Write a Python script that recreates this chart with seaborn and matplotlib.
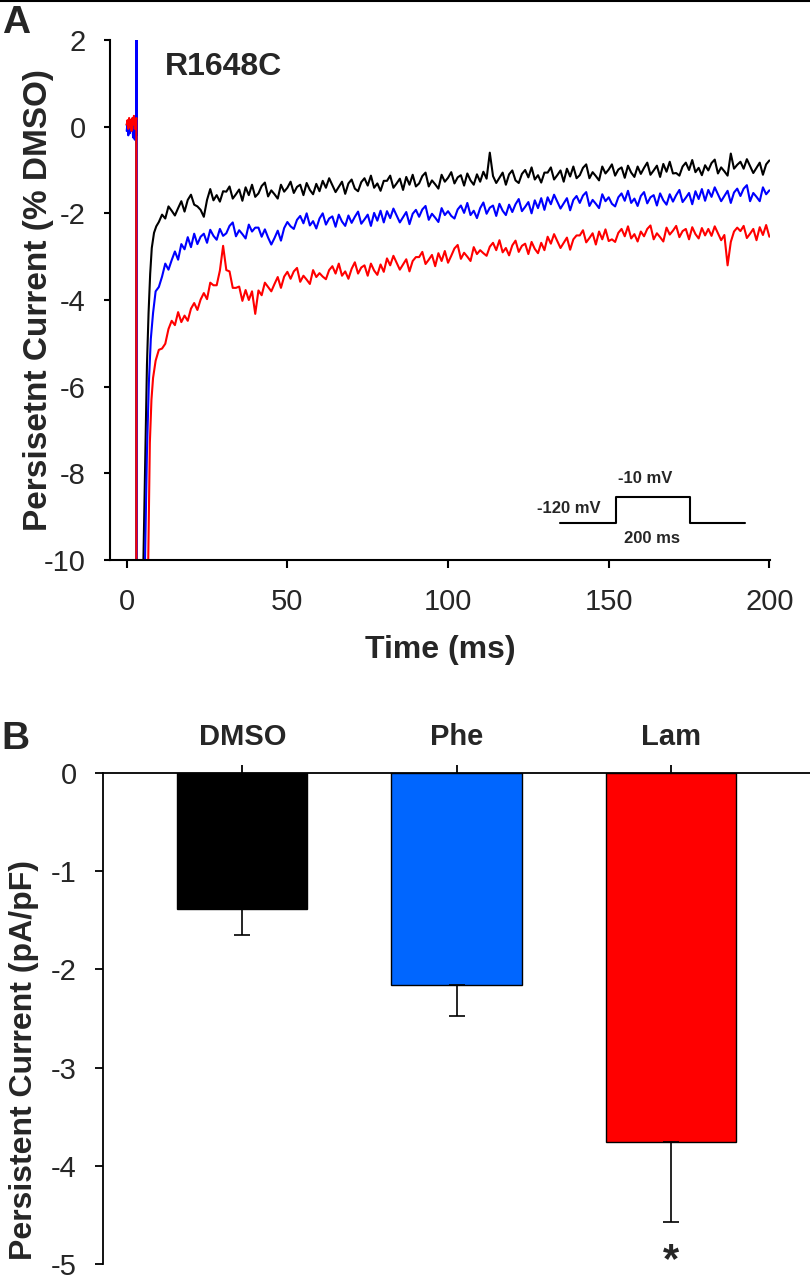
import matplotlib
matplotlib.use("Agg")
import matplotlib.pyplot as plt
from matplotlib.lines import Line2D
import seaborn as sns

# ---- panel A: persistent current traces (R1648C), % of DMSO ----
t_pre = [0, 0.25, 0.5, 0.75, 1.0, 1.25, 1.5, 1.75, 2.0, 2.25, 2.5, 2.75, 3.0]
t_slow = list(range(11, 201))

black_t_fast = t_pre + [3.1, 4.6, 5.2, 5.8, 6.3, 6.8, 7.3, 7.8, 8.5, 9.2, 10.0]
black_i_fast = [0.05, -0.05, 0.1, 0.0, 0.12, -0.08, 0.05, 0.1, -0.05, 0.08, 0.0, 0.1, 0.02,
                -60, -40, -10, -7.5, -5.5, -4.3, -3.4, -2.8, -2.45, -2.3, -2.2]
black_i_slow = [
    -2.03, -2.12, -1.84, -1.94, -2.05, -1.88, -1.72, -1.96, -1.69, -1.57,
    -1.80, -1.84, -1.92, -2.08, -1.69, -1.44, -1.70, -1.58, -1.73, -1.49,
    -1.50, -1.38, -1.66, -1.56, -1.45, -1.71, -1.40, -1.58, -1.34, -1.62,
    -1.54, -1.37, -1.29, -1.61, -1.47, -1.56, -1.66, -1.34, -1.50, -1.41,
    -1.27, -1.53, -1.39, -1.34, -1.58, -1.30, -1.46, -1.56, -1.32, -1.49,
    -1.25, -1.41, -1.19, -1.35, -1.51, -1.39, -1.27, -1.55, -1.31, -1.22,
    -1.43, -1.49, -1.28, -1.19, -1.36, -1.13, -1.41, -1.31, -1.48, -1.25,
    -1.25, -1.13, -1.41, -1.31, -1.20, -1.46, -1.16, -1.34, -1.11, -1.38,
    -1.31, -1.14, -1.06, -1.38, -1.24, -1.33, -1.43, -1.11, -1.27, -1.18,
    -1.05, -1.31, -1.17, -1.12, -1.36, -1.08, -1.24, -1.34, -1.10, -1.27,
    -1.04, -1.20, -0.60, -1.14, -1.30, -1.18, -1.06, -1.34, -1.10, -1.01,
    -1.24, -1.30, -1.09, -1.00, -1.17, -0.94, -1.22, -1.12, -1.29, -1.06,
    -1.06, -0.94, -1.22, -1.12, -1.01, -1.27, -0.97, -1.15, -0.92, -1.19,
    -1.12, -0.95, -0.87, -1.19, -1.05, -1.14, -1.24, -0.92, -1.08, -0.99,
    -0.87, -1.13, -0.99, -0.94, -1.18, -0.90, -1.06, -1.16, -0.92, -1.09,
    -0.95, -0.83, -1.11, -1.01, -0.90, -1.16, -0.86, -1.04, -0.81, -1.08,
    -1.07, -1.13, -0.92, -0.83, -1.00, -0.77, -1.05, -0.95, -1.12, -0.89,
    -1.01, -0.84, -0.76, -1.08, -0.94, -1.03, -1.13, -0.62, -0.97, -0.88,
    -0.81, -0.97, -0.75, -0.91, -1.07, -0.95, -0.83, -1.11, -0.87, -0.78,
]

blue_t_fast = t_pre + [3.1, 3.15, 5.0, 5.7, 6.3, 6.9, 7.5, 8.2, 9.0, 10.0]
blue_i_fast = [-0.1, 0.1, -0.2, 0.05, -0.15, 0.1, -0.05, 0.0, -0.25, 0.1, -0.3, 0.05, -0.2,
               40, -60, -40, -10, -7.5, -5.9, -4.9, -4.3, -3.8, -3.7]
blue_i_slow = [
    -3.46, -3.16, -3.30, -3.08, -2.88, -3.07, -2.71, -2.83, -2.55, -2.78,
    -2.47, -2.71, -2.54, -2.47, -2.68, -2.38, -2.52, -2.61, -2.36, -2.52,
    -2.46, -2.29, -2.21, -2.53, -2.39, -2.48, -2.58, -2.26, -2.42, -2.33,
    -2.33, -2.54, -2.37, -2.56, -2.72, -2.57, -2.40, -2.63, -2.34, -2.20,
    -2.30, -2.36, -2.15, -2.06, -2.23, -2.00, -2.28, -2.18, -2.35, -2.12,
    -2.00, -2.26, -2.12, -2.07, -2.31, -2.03, -2.19, -2.29, -2.05, -2.22,
    -2.08, -1.96, -2.24, -2.14, -2.03, -2.29, -1.99, -2.17, -1.94, -2.21,
    -1.95, -2.11, -1.89, -2.05, -2.21, -2.09, -1.97, -2.25, -2.01, -1.92,
    -2.08, -1.91, -1.83, -2.15, -2.01, -2.10, -2.20, -1.88, -2.04, -1.95,
    -2.06, -2.12, -1.91, -1.82, -1.99, -1.76, -2.04, -1.94, -2.11, -1.88,
    -1.75, -2.01, -1.87, -1.82, -2.06, -1.78, -1.94, -2.04, -1.80, -1.97,
    -1.79, -1.67, -1.95, -1.85, -1.74, -2.00, -1.70, -1.88, -1.65, -1.92,
    -1.63, -1.79, -1.57, -1.73, -1.89, -1.77, -1.65, -1.93, -1.69, -1.60,
    -1.76, -1.59, -1.51, -1.83, -1.69, -1.78, -1.88, -1.56, -1.72, -1.63,
    -1.78, -1.84, -1.63, -1.54, -1.71, -1.48, -1.76, -1.66, -1.83, -1.60,
    -1.51, -1.77, -1.63, -1.58, -1.82, -1.54, -1.70, -1.80, -1.56, -1.73,
    -1.58, -1.46, -1.74, -1.64, -1.53, -1.79, -1.49, -1.67, -1.44, -1.71,
    -1.46, -1.62, -1.40, -1.56, -1.72, -1.60, -1.48, -1.76, -1.52, -1.43,
    -1.60, -1.43, -1.35, -1.72, -1.53, -1.62, -1.72, -1.40, -1.56, -1.47,
]

red_t_fast = t_pre + [3.1, 6.0, 6.7, 7.2, 7.7, 8.2, 9.0, 10.0]
red_i_fast = [0.05, 0.15, -0.05, 0.2, 0.0, 0.15, -0.1, 0.2, 0.05, 0.25, -0.05, 0.1, 0.2,
              -60, -40, -10, -7.3, -6.3, -5.8, -5.4, -5.15]
red_i_slow = [
    -5.12, -5.01, -4.67, -4.48, -4.58, -4.28, -4.51, -4.36, -4.48, -4.20,
    -4.07, -4.23, -3.99, -3.84, -3.98, -3.60, -3.66, -3.66, -3.32, -2.75,
    -3.31, -3.34, -3.72, -3.72, -3.69, -4.02, -3.77, -4.00, -3.80, -4.32,
    -3.78, -3.89, -3.60, -3.70, -3.80, -3.63, -3.47, -3.72, -3.46, -3.35,
    -3.51, -3.34, -3.26, -3.58, -3.44, -3.53, -3.63, -3.31, -3.47, -3.38,
    -3.46, -3.52, -3.31, -3.22, -3.39, -3.16, -3.44, -3.34, -3.51, -3.28,
    -3.13, -3.39, -3.25, -3.20, -3.44, -3.16, -3.32, -3.42, -3.18, -3.35,
    -3.04, -3.20, -2.98, -3.14, -3.30, -3.18, -3.06, -3.34, -3.10, -3.01,
    -3.01, -2.89, -3.17, -3.07, -2.96, -3.22, -2.92, -3.10, -2.87, -3.14,
    -2.98, -2.81, -2.73, -3.05, -2.91, -3.00, -3.10, -2.78, -2.94, -2.85,
    -2.92, -2.98, -2.77, -2.68, -2.85, -2.62, -2.90, -2.80, -2.97, -2.74,
    -2.63, -2.89, -2.75, -2.70, -2.94, -2.66, -2.82, -2.92, -2.68, -2.85,
    -2.54, -2.70, -2.48, -2.64, -2.80, -2.68, -2.56, -2.84, -2.60, -2.51,
    -2.51, -2.39, -2.67, -2.57, -2.46, -2.72, -2.42, -2.60, -2.37, -2.64,
    -2.60, -2.66, -2.45, -2.36, -2.53, -2.30, -2.58, -2.48, -2.65, -2.42,
    -2.53, -2.36, -2.28, -2.60, -2.46, -2.55, -2.65, -2.33, -2.49, -2.40,
    -2.29, -2.55, -2.41, -2.36, -2.60, -2.32, -2.48, -2.58, -2.34, -2.51,
    -2.36, -2.52, -2.30, -2.46, -2.62, -2.50, -3.20, -2.66, -2.42, -2.33,
    -2.41, -2.29, -2.57, -2.47, -2.36, -2.62, -2.32, -2.50, -2.27, -2.54,
]

# voltage protocol inset (ms, mV)
protocol_t = [-150, 0, 0, 200, 200, 350]
protocol_v = [-120, -120, -10, -10, -120, -120]

# ---- panel B: persistent current density ----
conditions = ["DMSO", "Phe", "Lam"]
current_mean = [-1.39, -2.155, -3.76]
current_sem = [0.26, 0.315, 0.81]
bar_colors = ["#000000", "#0066FF", "#FF0000"]

sns.set_theme(style="ticks")
plt.rcParams["font.family"] = ["Liberation Sans", "DejaVu Sans"]
plt.rcParams["axes.unicode_minus"] = False

fig = plt.figure(figsize=(8.1, 12.79), dpi=100)
W, H = 810, 1279

"""
PANEL A
"""
axA = fig.add_axes([110 / W, 1 - 560 / H, 660 / W, 520 / H])
traces = [
    (black_t_fast + t_slow, black_i_fast + black_i_slow, "#000000"),
    (blue_t_fast + t_slow, blue_i_fast + blue_i_slow, "#0000FF"),
    (red_t_fast + t_slow, red_i_fast + red_i_slow, "#FF0000"),
]
for t, i, c in traces:
    sns.lineplot(x=t, y=i, color=c, lw=1.5, estimator=None, sort=False, ax=axA)

axA.set_xlim(-5.2, 200.2)
axA.set_ylim(-10, 2)
axA.set_xticks([0, 50, 100, 150, 200])
axA.set_yticks([-10, -8, -6, -4, -2, 0, 2])
sns.despine(ax=axA)
for s in ["left", "bottom"]:
    axA.spines[s].set_linewidth(1.5)
    axA.spines[s].set_color("black")
axA.tick_params(axis="y", length=4.5, width=1.5, pad=13, labelsize=21, color="black")
axA.tick_params(axis="x", length=6, width=1.5, pad=14, labelsize=21, color="black")
axA.set_xlabel("Time (ms)", fontsize=23, fontweight="bold", labelpad=14)
axA.set_ylabel("Persisetnt Current (% DMSO)", fontsize=24, fontweight="bold")
axA.yaxis.set_label_coords(-0.085, 0.5)
axA.text(12, 1.72, "R1648C", fontsize=23, fontweight="bold", ha="left", va="top")

# voltage protocol schematic
axP = fig.add_axes([560 / W, 1 - 522.7 / H, 185 / W, 26 / H])
axP.plot(protocol_t, protocol_v, color="black", lw=1.5, clip_on=False)
axP.set_xlim(-150, 350)
axP.set_ylim(-120, -10)
axP.axis("off")
axP.annotate("-10 mV", xy=(80, -10), xytext=(0, 8), textcoords="offset points",
             ha="center", va="bottom", fontsize=12, fontweight="bold")
axP.annotate("-120 mV", xy=(0, -120), xytext=(-11, 5), textcoords="offset points",
             ha="right", va="bottom", fontsize=12, fontweight="bold")
axP.annotate("200 ms", xy=(100, -120), xytext=(0, -6), textcoords="offset points",
             ha="center", va="top", fontsize=12, fontweight="bold")

"""
PANEL B
"""
axB = fig.add_axes([103 / W, 1 - 1264 / H, 707 / W, 491 / H])
sns.barplot(x=conditions, y=current_mean, hue=conditions, palette=bar_colors,
            saturation=1, legend=False, width=0.607, edgecolor="black",
            linewidth=1.0, errorbar=None, ax=axB)
axB.errorbar(range(len(conditions)), current_mean,
             yerr=[current_sem, [0] * len(conditions)],
             fmt="none", ecolor="black", elinewidth=1.2, capsize=6, capthick=1.2)
axB.text(2, current_mean[2] - current_sem[2] - 0.40, "*", ha="center", va="center",
         fontsize=30, fontweight="bold")

axB.set_xlim(-0.65, 2.65)
axB.set_ylim(-5, 0)
axB.set_yticks([0, -1, -2, -3, -4, -5])
axB.xaxis.tick_top()
for s in ["bottom", "right"]:
    axB.spines[s].set_visible(False)
for s in ["left", "top"]:
    axB.spines[s].set_linewidth(1.3)
    axB.spines[s].set_color("black")
axB.tick_params(axis="x", top=True, bottom=False, length=6, width=1.3, pad=10,
                labelsize=21, color="black")
for lab in axB.get_xticklabels():
    lab.set_fontweight("bold")
axB.tick_params(axis="y", length=6, width=1.3, pad=13, labelsize=21, color="black")
axB.set_ylabel("Persistent Current (pA/pF)", fontsize=23, fontweight="bold")
axB.yaxis.set_label_coords(-0.09, 0.415)

# panel letters and top border
fig.text(0.002, 1 - 5 / H, "A", fontsize=28, fontweight="bold", ha="left", va="top")
fig.text(0.002, 1 - 721 / H, "B", fontsize=28, fontweight="bold", ha="left", va="top")
fig.add_artist(Line2D([0, 1], [1 - 1 / H, 1 - 1 / H], color="black", lw=1.5))

plt.savefig("out.png", dpi=100)
